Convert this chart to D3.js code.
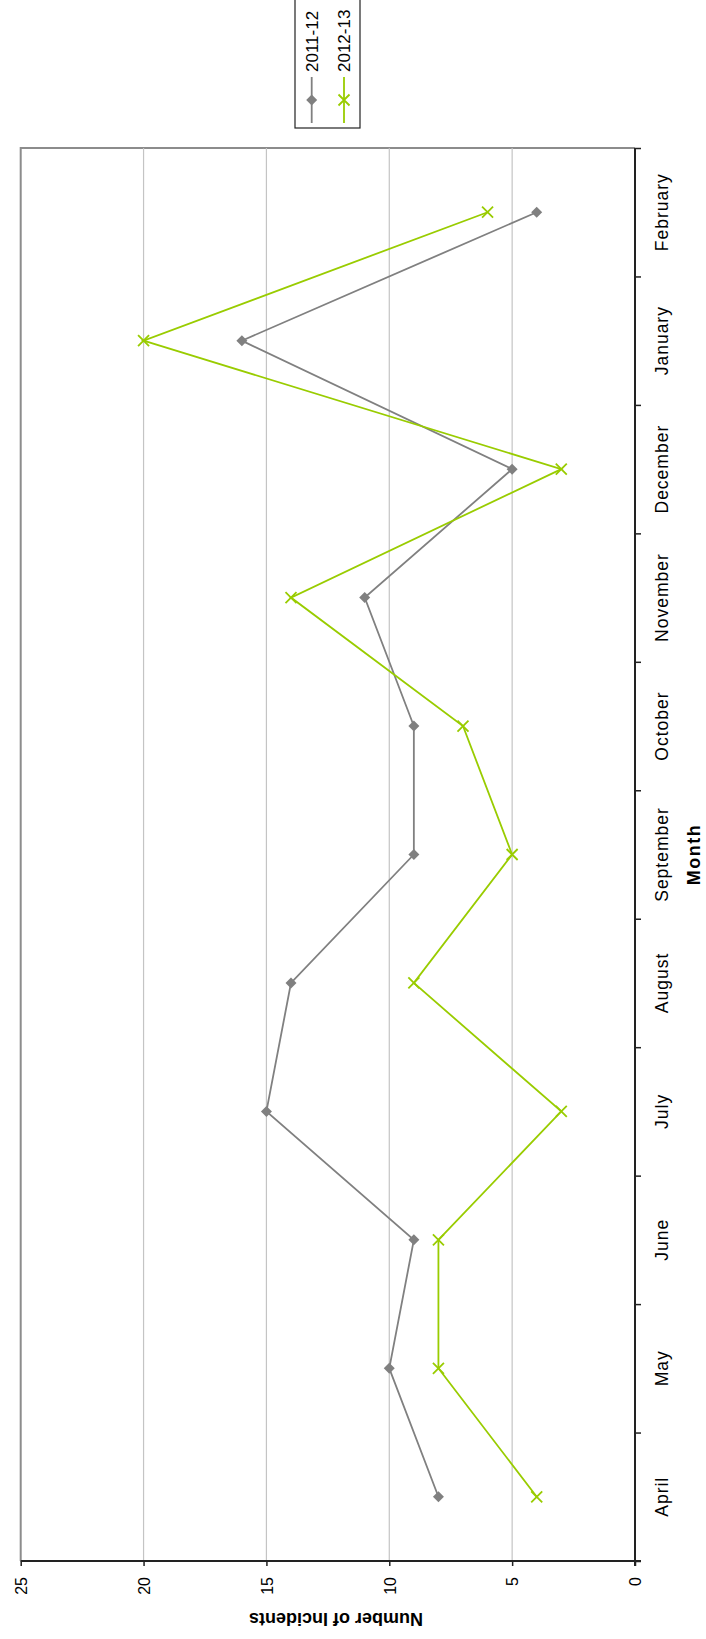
<!DOCTYPE html>
<html>
<head>
<meta charset="utf-8">
<script src="https://cdn.jsdelivr.net/npm/d3@7"></script>
<style>
  html, body { margin: 0; padding: 0; background: #fff; }
  svg { display: block; font-family: "Liberation Sans", Arial, sans-serif; }
</style>
</head>
<body>
<svg id="chart" width="706" height="1639"></svg>
<script>
// ---- data ----
const months = ["April", "May", "June", "July", "August", "September", "October", "November", "December", "January", "February"];
const series2011 = [8, 10, 9, 15, 14, 9, 9, 11, 5, 16, 4];
const series2012 = [4, 8, 8, 3, 9, 5, 7, 14, 3, 20, 6];
const seriesNames = ["2011-12", "2012-13"];
const valueTicks = [0, 5, 10, 15, 20, 25];
const xTitle = "Month";
const yTitle = "Number of Incidents";

// ---- layout (chart is drawn rotated 90° counter-clockwise) ----
const plot = { left: 20.7, right: 635, top: 148, bottom: 1561 };
const colors = { s1: "#808080", s2: "#99cc00" };

const svg = d3.select("#chart");

const v = d3.scaleLinear().domain([0, 25]).range([plot.right, plot.left]);
const m = d3.scaleBand().domain(months).range([plot.bottom, plot.top]).padding(0);
const mc = d => m(d) + m.bandwidth() / 2;
const boundaries = d3.scaleLinear().domain([0, months.length]).range([plot.bottom, plot.top]);

// plot border (left/top in picture)
svg.append("path")
  .attr("d", `M${plot.left},${plot.bottom} V${plot.top} H${plot.right}`)
  .attr("fill", "none").attr("stroke", "#8c8c8c").attr("stroke-width", 2);

// gridlines
svg.append("g").selectAll("line").data(valueTicks.filter(t => t > 0 && t < 25)).join("line")
  .attr("x1", d => v(d)).attr("x2", d => v(d))
  .attr("y1", plot.top).attr("y2", plot.bottom)
  .attr("stroke", "#c4c4c4").attr("stroke-width", 1.2);

// value axis (bottom in picture)
const vAxis = svg.append("g")
  .attr("transform", `translate(0,${plot.bottom})`)
  .call(d3.axisBottom(v).tickValues(valueTicks).tickSize(5).tickSizeOuter(0));
vAxis.select(".domain").remove();
vAxis.append("line").attr("x1", plot.left).attr("x2", plot.right + 6).attr("y1", 0).attr("y2", 0)
  .attr("stroke", "#222").attr("stroke-width", 2);
vAxis.selectAll(".tick line").attr("stroke", "#222").attr("stroke-width", 1.5);
vAxis.selectAll(".tick text")
  .attr("x", 0).attr("y", 0).attr("dy", "0.36em")
  .attr("transform", "translate(0,16) rotate(-90)")
  .attr("text-anchor", "end")
  .attr("font-size", 16).attr("fill", "#000")
  .attr("font-family", "'Liberation Sans', Arial, sans-serif");

// month axis (right in picture): ticks at boundaries
const mAxis = svg.append("g")
  .attr("transform", `translate(${plot.right},0)`)
  .call(d3.axisRight(boundaries).tickValues(d3.range(0, months.length + 1)).tickSize(6).tickFormat(""));
mAxis.select(".domain").remove();
mAxis.append("line").attr("x1", 0).attr("x2", 0).attr("y1", plot.top).attr("y2", plot.bottom + 5)
  .attr("stroke", "#222").attr("stroke-width", 2);
mAxis.selectAll(".tick line").attr("stroke", "#222").attr("stroke-width", 1.5);

// month labels at band centres
const mLabels = svg.append("g")
  .attr("transform", `translate(${plot.right},0)`)
  .call(d3.axisRight(m).tickSize(0).tickPadding(0));
mLabels.select(".domain").remove();
mLabels.selectAll(".tick text")
  .attr("x", 0).attr("y", 0).attr("dy", "0.36em")
  .attr("transform", "translate(26.5,0) rotate(-90)")
  .attr("text-anchor", "middle")
  .attr("font-size", 17.5).attr("letter-spacing", "1px").attr("fill", "#000")
  .attr("font-family", "'Liberation Sans', Arial, sans-serif");

// axis titles
svg.append("text")
  .attr("transform", `translate(694,${(plot.top + plot.bottom) / 2}) rotate(-90)`)
  .attr("text-anchor", "middle").attr("dy", "0.36em")
  .attr("font-size", 18).attr("letter-spacing", "1.5px").attr("font-weight", "bold").text(xTitle);
svg.append("text")
  .attr("transform", `translate(336,1619) rotate(180)`)
  .attr("text-anchor", "middle").attr("dy", "0.36em")
  .attr("font-size", 18).attr("font-weight", "bold").text(yTitle);

// lines
const line = d3.line().x(d => v(d.v)).y(d => mc(d.m));
const d1 = months.map((mm, i) => ({ m: mm, v: series2011[i] }));
const d2 = months.map((mm, i) => ({ m: mm, v: series2012[i] }));

svg.append("path").datum(d1).attr("d", line)
  .attr("fill", "none").attr("stroke", colors.s1).attr("stroke-width", 1.8);
svg.append("path").datum(d2).attr("d", line)
  .attr("fill", "none").attr("stroke", colors.s2).attr("stroke-width", 1.8);

// markers
const diamond = (cx, cy, r) => `M${cx},${cy - r} L${cx + r},${cy} L${cx},${cy + r} L${cx - r},${cy} Z`;
const cross = (cx, cy, r) => `M${cx - r},${cy - r} L${cx + r},${cy + r} M${cx - r},${cy + r} L${cx + r},${cy - r}`;

svg.append("g").selectAll("path").data(d1).join("path")
  .attr("d", d => diamond(v(d.v), mc(d.m), 5.5))
  .attr("fill", colors.s1);
svg.append("g").selectAll("path").data(d2).join("path")
  .attr("d", d => cross(v(d.v), mc(d.m), 5.5))
  .attr("fill", "none").attr("stroke", colors.s2).attr("stroke-width", 1.8);

// legend
const lg = svg.append("g");
lg.append("rect").attr("x", 295).attr("y", -10).attr("width", 65).attr("height", 138)
  .attr("fill", "#fff").attr("stroke", "#222").attr("stroke-width", 1.2);
const entries = [
  { name: seriesNames[0], x: 311.7, color: colors.s1, type: "diamond" },
  { name: seriesNames[1], x: 344, color: colors.s2, type: "cross" }
];
entries.forEach(e => {
  lg.append("line").attr("x1", e.x).attr("x2", e.x).attr("y1", 77).attr("y2", 123)
    .attr("stroke", e.color).attr("stroke-width", 1.8);
  if (e.type === "diamond") {
    lg.append("path").attr("d", diamond(e.x, 100, 5.5)).attr("fill", e.color);
  } else {
    lg.append("path").attr("d", cross(e.x, 100, 5.5)).attr("fill", "none")
      .attr("stroke", e.color).attr("stroke-width", 1.8);
  }
  lg.append("text")
    .attr("transform", `translate(${e.x},72) rotate(-90)`)
    .attr("text-anchor", "start").attr("dy", "0.36em")
    .attr("font-size", 17).text(e.name);
});
</script>
</body>
</html>
